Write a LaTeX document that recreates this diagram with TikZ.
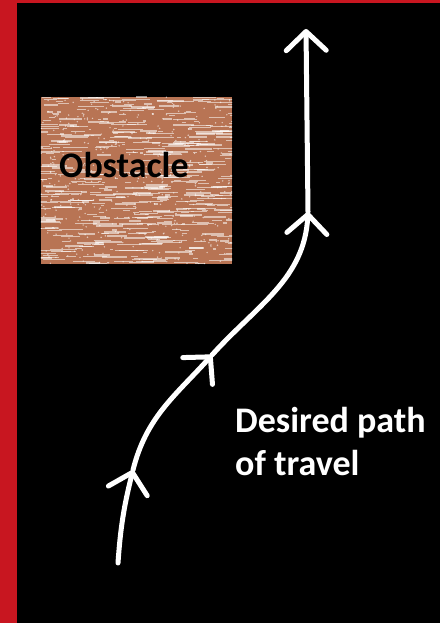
\documentclass[tikz,border=0pt]{standalone}
\usepackage{fontspec}
\setmainfont{Carlito}
\usetikzlibrary{arrows.meta}
\definecolor{bordred}{RGB}{200,22,32}
\definecolor{obsbrown}{RGB}{184,116,84}
\begin{document}
\begin{tikzpicture}[x=1pt,y=1pt,
  trail/.style={white, line width=5pt, line cap=round},
  barb/.style={-{Straight Barb[length=19pt,width=40pt,round]}},
  obstacle/.style={fill=obsbrown, draw=none, minimum width=191pt, minimum height=167pt, inner sep=0pt},
  bigtext/.style={font=\bfseries\fontsize{36}{43}\selectfont, inner sep=0pt}]
\useasboundingbox (0,0) rectangle (440,623);
\fill[bordred] (0,0) rectangle (440,623);
\fill[black] (17,0) rectangle (440,620);
% obstacle
\node[obstacle] (obs) at (136.5,442.5) {};
\begin{scope}
  \clip (obs.south west) rectangle (obs.north east);
  \pgfmathsetseed{42}
  \foreach \i in {1,...,520} {
    \pgfmathsetmacro\xa{30+rnd*202}
    \pgfmathsetmacro\ya{359+rnd*167}
    \pgfmathsetmacro\len{2+rnd*26}
    \pgfmathsetmacro\lw{0.5+rnd*1.3}
    \draw[white, opacity=0.55, line width=\lw pt] (\xa,\ya) -- ++(\len,0);
  }
  \foreach \i in {1,...,400} {
    \pgfmathsetmacro\xa{41+rnd*191}
    \pgfmathsetmacro\ya{359+rnd*167}
    \fill[white, opacity=0.6] (\xa,\ya) circle (0.8pt);
  }
\end{scope}
\node[bigtext, text=black, anchor=base west] (obslabel) at (59,445) {Obstacle};
% path
\coordinate (s) at (118,60);
\coordinate (a1) at (133,153);
\coordinate (a2) at (212,268);
\coordinate (a3) at (308,411);
\coordinate (top) at (306,594);
\draw[trail, barb] (s) to[out=86, in=-104] (a1);
\draw[trail, barb] (a1) to[out=76, in=-132] (a2);
\draw[trail, barb] (a2) to[out=48, in=-93] (a3);
\draw[trail, barb] (a3) -- (top);
% label
\node[bigtext, text=white, anchor=base west, align=left] (label) at (235,147) {Desired path\\of travel};
\end{tikzpicture}
\end{document}
